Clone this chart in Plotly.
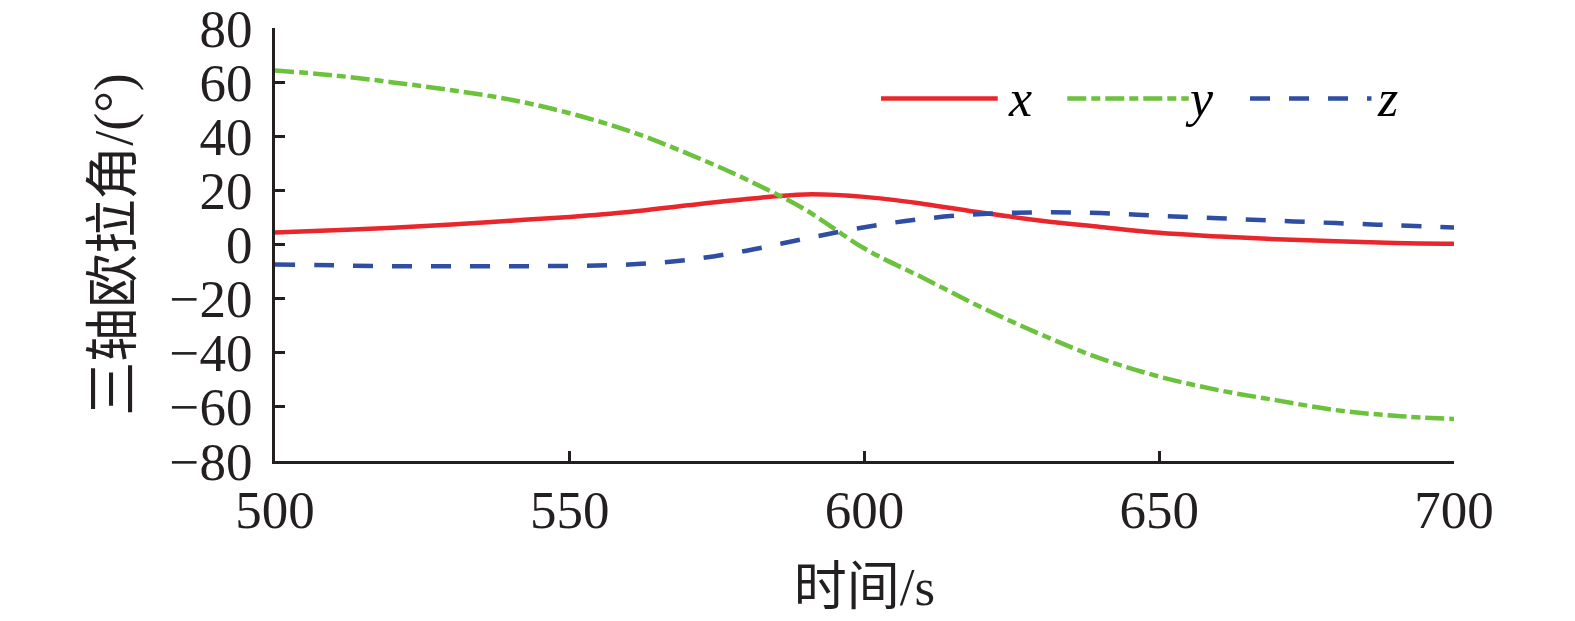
import plotly.graph_objects as go

# time axis (s)
t = [500, 510, 520, 530, 540, 550, 560, 570, 580, 590, 600,
     610, 620, 630, 640, 650, 660, 670, 680, 690, 700]

# euler angles (deg)
ang_x = [4.4, 5.3, 6.2, 7.4, 8.8, 10.2, 12.0, 14.5, 16.8, 18.5, 17.6,
         15.0, 11.7, 8.8, 6.5, 4.3, 3.0, 1.9, 1.2, 0.6, 0.3]
ang_y = [64.3, 62.5, 59.9, 57.0, 53.5, 48.5, 42.0, 33.6, 24.0, 12.8, -1.5,
         -12.4, -23.4, -33.3, -42.1, -48.8, -53.8, -57.6, -61.2, -63.3, -64.5]
ang_z = [-7.4, -7.7, -8.0, -8.0, -8.0, -7.9, -7.4, -5.7, -2.3, 2.2, 6.4,
         9.5, 11.3, 11.9, 11.6, 10.6, 9.7, 8.8, 7.9, 7.1, 6.3]

names = ["x", "y", "z"]
colors = ["#e8262b", "#6cc13d", "#2e4da3"]
dashes = ["solid", "19px,5px,9px,5px", "20px,19px"]

FONT = "Liberation Serif, Noto Sans CJK SC"
AX = "#231f20"

fig = go.Figure()
for vals, name, c, d in zip([ang_x, ang_y, ang_z], names, colors, dashes):
    fig.add_trace(go.Scatter(x=t, y=vals, mode="lines", name=name,
                             line=dict(color=c, width=4.5, dash=d, shape="spline"),
                             showlegend=False))

# legend drawn by hand (plotly's legend lines are too short)
leg_x0 = [0.514, 0.672, 0.827]
leg_x1 = [0.613, 0.775, 0.930]
leg_tx = [0.632, 0.784, 0.944]
leg_y = 0.837
for i in range(3):
    fig.add_shape(type="line", xref="paper", yref="paper",
                  x0=leg_x0[i], x1=leg_x1[i], y0=leg_y, y1=leg_y,
                  line=dict(color=colors[i], width=4.5, dash=dashes[i]))
    fig.add_annotation(xref="paper", yref="paper", x=leg_tx[i], y=leg_y,
                       xanchor="center", yanchor="middle",
                       text="<i>" + names[i] + "</i>", showarrow=False,
                       font=dict(family=FONT, size=52, color="black"))

fig.update_xaxes(range=[500, 700], tickvals=[500, 550, 600, 650, 700],
                 showline=True, linewidth=3, linecolor=AX, showgrid=False,
                 zeroline=False, ticks="inside", ticklen=10, tickwidth=3,
                 tickcolor=AX, ticklabelstandoff=0, automargin=False,
                 ticklabeloverflow="allow",
                 tickfont=dict(family=FONT, size=53, color=AX),
                 title=dict(text="时间/s", standoff=31,
                            font=dict(family=FONT, size=53, color=AX)))
fig.update_yaxes(range=[-80, 80], tickvals=list(range(-80, 81, 20)),
                 showline=True, linewidth=3, linecolor=AX, showgrid=False,
                 zeroline=False, ticks="inside", ticklen=10, tickwidth=3,
                 tickcolor=AX, ticklabelstandoff=9, automargin=False,
                 ticklabeloverflow="allow",
                 tickfont=dict(family=FONT, size=53, color=AX),
                 title=dict(text="三轴欧拉角/(°)", standoff=20,
                            font=dict(family=FONT, size=54, color=AX)))

fig.update_layout(width=1575, height=621, plot_bgcolor="white",
                  paper_bgcolor="white",
                  margin=dict(l=275, r=121, t=28, b=160),
                  font=dict(family=FONT, size=53, color=AX))

# drop the browser's default body margin so the figure fills the window
fig.write_html("out.html", config={"displayModeBar": False},
               post_script="document.body.style.margin='0';")
